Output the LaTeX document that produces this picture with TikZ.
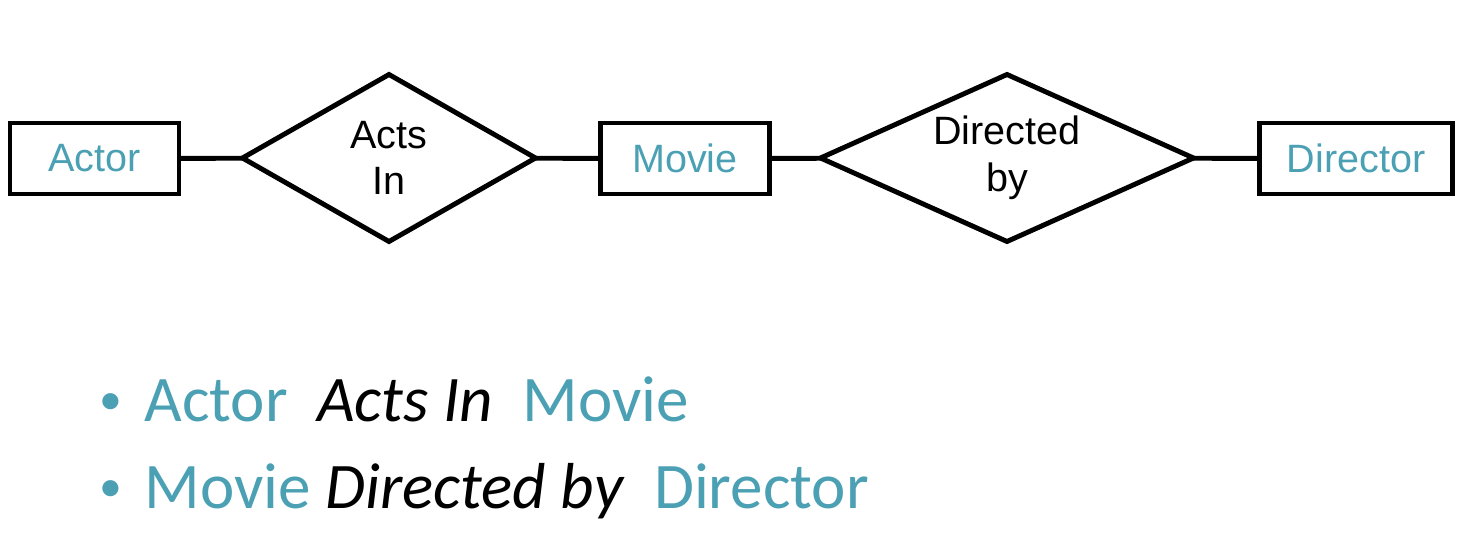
\documentclass[tikz,border=0pt]{standalone}
\usepackage{fontspec}
\setmainfont{Liberation Sans}
\newfontfamily\bulletfont{Carlito}
\usepackage{tkz-graph}
\usetikzlibrary{arrows}
\usetikzlibrary{shapes}
\definecolor{erteal}{RGB}{75,160,180}

\begin{document}
\begin{tikzpicture}[line width = 2.8pt]
	\useasboundingbox (0,0) rectangle (29.18,-10.66);
	\SetUpEdge[lw = 2.8pt, color = black]
	\tikzstyle{VertexStyle} = []
	\tikzstyle{EdgeStyle} = [line width = 2.8pt]
	\tikzstyle{entityStyle}=[shape = rectangle, draw, line width = 2.8pt, minimum width = 3.38cm, minimum height = 1.42cm, inner sep = 0pt, text = erteal, font = \fontsize{22.5}{26.6}\selectfont]
	\tikzstyle{relationStyle}=[shape = diamond, draw, line width = 2.8pt, aspect = 1.75, minimum width = 5.86cm, minimum height = 3.34cm, inner sep = 0pt, align = center, font = \fontsize{22.5}{26.6}\selectfont]
	\tikzstyle{bulletStyle}=[anchor = base west, inner sep = 0pt, text = erteal, font = \bulletfont\fontsize{37}{43}\selectfont]
	\Vertex[style = entityStyle, x = 1.890, y = -3.170, L = {Actor}]{actor}
	\Vertex[style = relationStyle, x = 7.780, y = -3.160, L = {Acts\\In}]{actsin}
	\Vertex[style = entityStyle, x = 13.700, y = -3.170, L = {Movie}]{movie}
	\Vertex[style = {relationStyle, aspect = 2.2, minimum width = 7.46cm}, x = 20.140, y = -3.160, L = {Directed\\by}]{directedby}
	\Vertex[style = {entityStyle, minimum width = 3.86cm}, x = 27.120, y = -3.170, L = {Director}]{director}
	\Edge[style = {line width = 2.8pt}](actor)(actsin)
	\Edge[style = {line width = 2.8pt}](actsin)(movie)
	\Edge[style = {line width = 2.8pt}](movie)(directedby)
	\Edge[style = {line width = 2.8pt}](directedby)(director)
	% bullet list
	\node[bulletStyle, font = \bulletfont\fontsize{26}{30}\selectfont] (dot1) at (1.94, -8.28) {•};
	\node[bulletStyle] (line1) at (2.84, -8.44) {Actor\ \ \textcolor{black}{\textit{Acts In}}\ \ Movie};
	\node[bulletStyle, font = \bulletfont\fontsize{26}{30}\selectfont] (dot2) at (1.94, -10.02) {•};
	\node[bulletStyle] (line2) at (2.84, -10.18) {Movie \textcolor{black}{\textit{Directed by}}\ \ Director};
\end{tikzpicture}
\end{document}
